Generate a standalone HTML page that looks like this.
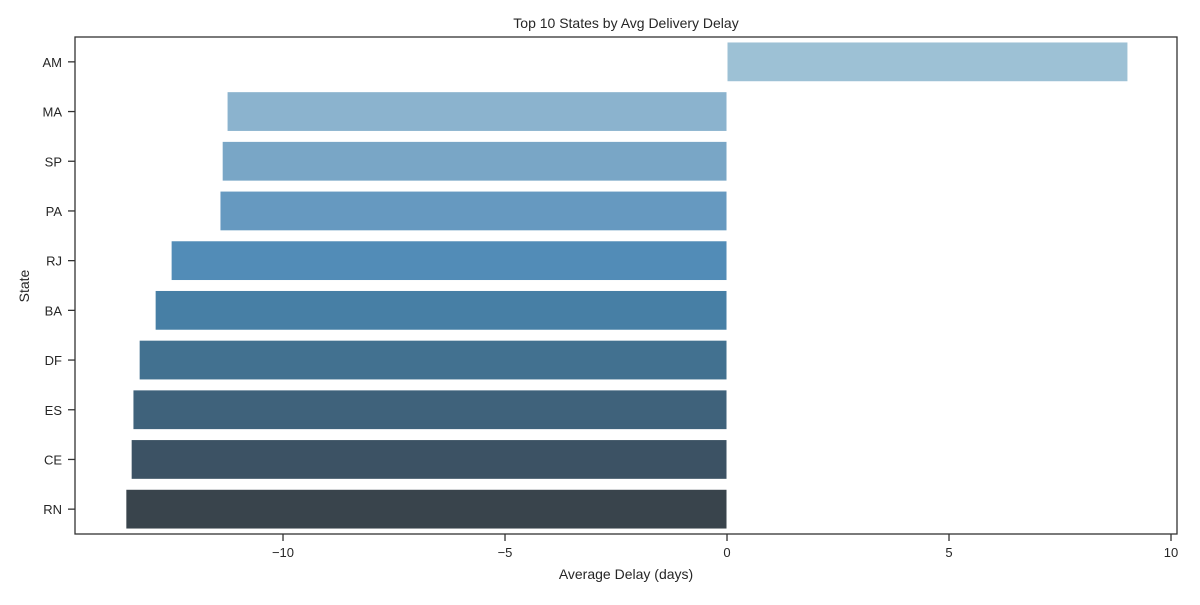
<!DOCTYPE html>
<html><head><meta charset="utf-8"><style>
body{margin:0;background:#fff;}
svg text{font-family:"Liberation Sans","DejaVu Sans",sans-serif;fill:#262626;}
</style></head><body>
<svg id="chart" width="1200" height="600" xmlns="http://www.w3.org/2000/svg">
<text x="626" y="28" font-size="14" text-anchor="middle">Top 10 States by Avg Delivery Delay</text>
<text x="626" y="579" font-size="14" text-anchor="middle">Average Delay (days)</text>
<text x="0" y="0" font-size="14" text-anchor="middle" transform="translate(29,286) rotate(-90)">State</text>
<g id="bars"></g><g id="yticks"></g><g id="xticks"></g>
<rect x="75" y="37" width="1102" height="497" fill="none" stroke="#333" stroke-width="1.3"/>
</svg>
<script>
const categories = ["AM","MA","SP","PA","RJ","BA","DF","ES","CE","RN"];
const values = [9.03,-11.26,-11.37,-11.42,-12.52,-12.88,-13.24,-13.38,-13.42,-13.54];
const colors = ["#9dc1d5","#8bb3ce","#79a6c6","#6699c0","#528cb7","#477fa5","#427190","#3f627b","#3c5264","#39444c"];
const xTicks = [-10,-5,0,5,10];
const xTickLabels = ["\u221210","\u22125","0","5","10"];
const NS="http://www.w3.org/2000/svg";
const L=75,R=1177,T=37,B=534;
const xMin=-14.685, xMax=10.135;
const xs=v=>L+(v-xMin)/(xMax-xMin)*(R-L);
const band=(B-T)/categories.length;
const yc=i=>T+band*(i+0.5);
const bars=document.getElementById('bars'),yt=document.getElementById('yticks'),xt=document.getElementById('xticks');
categories.forEach((c,i)=>{
  const r=document.createElementNS(NS,'rect');
  const x0=xs(Math.min(0,values[i])),x1=xs(Math.max(0,values[i]));
  r.setAttribute('x',x0);r.setAttribute('width',x1-x0);
  r.setAttribute('y',yc(i)-band*0.4);r.setAttribute('height',band*0.8);
  r.setAttribute('fill',colors[i]);r.setAttribute('stroke','#fff');r.setAttribute('stroke-width','1');
  
  
  bars.appendChild(r);
  const tk=document.createElementNS(NS,'line');
  tk.setAttribute('x1',68);tk.setAttribute('x2',75);tk.setAttribute('y1',yc(i));tk.setAttribute('y2',yc(i));
  tk.setAttribute('stroke','#333');tk.setAttribute('stroke-width','1.3');
  
  
  yt.appendChild(tk);
  const t=document.createElementNS(NS,'text');
  t.setAttribute('x',62);t.setAttribute('y',yc(i)+5);t.setAttribute('text-anchor','end');t.setAttribute('font-size','13');
  t.textContent=c;
  
  
  yt.appendChild(t);
});
xTicks.forEach((v,i)=>{
  const tk=document.createElementNS(NS,'line');
  tk.setAttribute('x1',xs(v));tk.setAttribute('x2',xs(v));tk.setAttribute('y1',B);tk.setAttribute('y2',B+7);
  tk.setAttribute('stroke','#333');tk.setAttribute('stroke-width','1.3');
  
  
  xt.appendChild(tk);
  const t=document.createElementNS(NS,'text');
  t.setAttribute('x',xs(v));t.setAttribute('y',557);t.setAttribute('text-anchor','middle');t.setAttribute('font-size','13');
  t.textContent=xTickLabels[i];
  
  
  xt.appendChild(t);
});
</script>
</body></html>
